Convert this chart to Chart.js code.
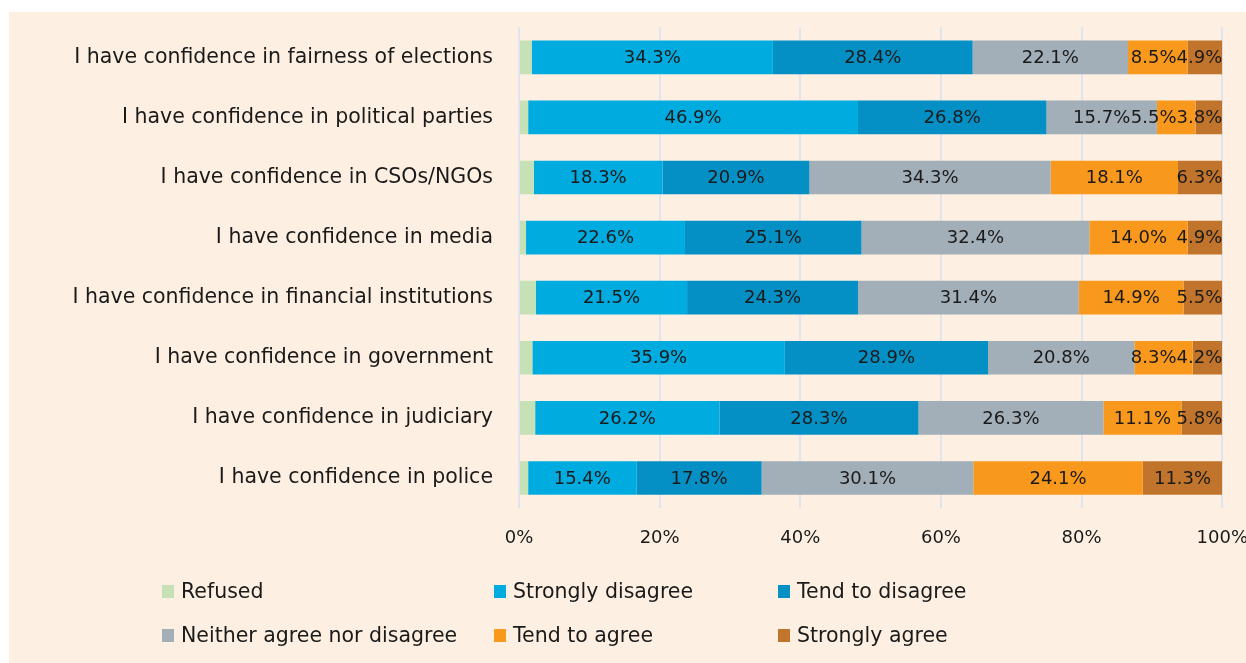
<!DOCTYPE html>
<html>
<head>
<meta charset="utf-8">
<script src="https://cdn.jsdelivr.net/npm/chart.js@4"></script>
<style>
    html, body { margin: 0; padding: 0; background: #ffffff; }
    body { width: 1246px; height: 663px; position: relative; overflow: hidden; font-family: "DejaVu Sans", sans-serif; }
    #panel { position: absolute; left: 9px; top: 12px; width: 1237px; height: 651px; background: #fdefe1; }
    #chartBox { position: absolute; left: 0; top: -23px; width: 1259px; height: 568px; }
    #legend { position: absolute; left: 0; top: 0; width: 1237px; height: 651px; pointer-events: none; }
    .item { position: absolute; display: flex; align-items: center; font-size: 20.5px; color: #1a1a1a; white-space: nowrap; }
    .box { width: 12px; height: 13px; margin-right: 7px; }
</style>
</head>
<body>
<div id="panel">
    <div id="chartBox"><canvas id="chart"></canvas></div>
    <div id="legend"></div>
</div>
<script>
// Survey data (percent of respondents)
const categories = [
    'I have confidence in fairness of elections',
    'I have confidence in political parties',
    'I have confidence in CSOs/NGOs',
    'I have confidence in media',
    'I have confidence in financial institutions',
    'I have confidence in government',
    'I have confidence in judiciary',
    'I have confidence in police'
];
const refused           = [1.8, 1.3, 2.1, 1.0, 2.4, 1.9, 2.3, 1.3];
const stronglyDisagree  = [34.3, 46.9, 18.3, 22.6, 21.5, 35.9, 26.2, 15.4];
const tendToDisagree    = [28.4, 26.8, 20.9, 25.1, 24.3, 28.9, 28.3, 17.8];
const neither           = [22.1, 15.7, 34.3, 32.4, 31.4, 20.8, 26.3, 30.1];
const tendToAgree       = [8.5, 5.5, 18.1, 14.0, 14.9, 8.3, 11.1, 24.1];
const stronglyAgree     = [4.9, 3.8, 6.3, 4.9, 5.5, 4.2, 5.8, 11.3];
const xTicks = [0, 20, 40, 60, 80, 100];

const series = [
    { label: 'Refused', data: refused, color: '#c6e1b5', showValue: false },
    { label: 'Strongly disagree', data: stronglyDisagree, color: '#00abdf', showValue: true },
    { label: 'Tend to disagree', data: tendToDisagree, color: '#0590c5', showValue: true },
    { label: 'Neither agree nor disagree', data: neither, color: '#a2aeb8', showValue: true },
    { label: 'Tend to agree', data: tendToAgree, color: '#f8981d', showValue: true },
    { label: 'Strongly agree', data: stronglyAgree, color: '#c1742b', showValue: true }
];

const FONT = '"DejaVu Sans", sans-serif';
const TEXT = '#1a1a1a';

// value labels in the middle of each segment; near the right end they are
// pushed left so that they stay inside the bar and do not overlap
const valueLabels = {
    id: 'valueLabels',
    afterDatasetsDraw(chart) {
        const ctx = chart.ctx;
        ctx.save();
        ctx.font = '18px ' + FONT;
        ctx.fillStyle = TEXT;
        ctx.textAlign = 'center';
        ctx.textBaseline = 'middle';
        chart.data.labels.forEach((_, j) => {
            let limit = chart.chartArea.right;
            for (let i = chart.data.datasets.length - 1; i >= 0; i--) {
                if (!series[i].showValue) continue;
                const bar = chart.getDatasetMeta(i).data[j];
                const text = chart.data.datasets[i].data[j].toFixed(1) + '%';
                const w = ctx.measureText(text).width;
                let x = (bar.x + bar.base) / 2;
                if (x + w / 2 > limit) x = limit - w / 2;
                limit = x - w / 2;
                ctx.fillText(text, x, bar.y + 1);
            }
        });
        ctx.restore();
    }
};

new Chart(document.getElementById('chart').getContext('2d'), {
    type: 'bar',
    data: {
        labels: categories,
        datasets: series.map(s => ({
            label: s.label,
            data: s.data,
            backgroundColor: s.color,
            borderWidth: 0,
            barPercentage: 0.56,
            categoryPercentage: 1.0
        }))
    },
    options: {
        indexAxis: 'y',
        responsive: true,
        maintainAspectRatio: false,
        animation: false,
        layout: { padding: { top: 13, right: 0, left: 0, bottom: 0 } },
        plugins: {
            legend: { display: false },
            tooltip: { enabled: false }
        },
        scales: {
            x: {
                stacked: true,
                min: 0,
                max: 100,
                afterBuildTicks: axis => { axis.ticks = xTicks.map(v => ({ value: v })); },
                afterFit: axis => { axis.height = 49; },
                grid: { color: '#dfe4ee', lineWidth: 2, drawTicks: false },
                border: { display: false },
                ticks: {
                    padding: 20,
                    color: TEXT,
                    font: { family: FONT, size: 18 },
                    callback: v => v + '%'
                }
            },
            y: {
                stacked: true,
                afterFit: axis => { axis.width = 510; },
                grid: { display: false, drawTicks: false },
                border: { display: false },
                ticks: {
                    padding: 26,
                    color: TEXT,
                    font: { family: FONT, size: 20.5 }
                }
            }
        }
    },
    plugins: [valueLabels]
});

// legend laid out in a 3-column grid like the original
const legendCols = [153, 485, 769];
const legendRows = [580, 624];
const legend = document.getElementById('legend');
series.forEach((s, i) => {
    const item = document.createElement('div');
    item.className = 'item';
    item.style.left = legendCols[i % 3] + 'px';
    item.style.top = (legendRows[Math.floor(i / 3)] - 13) + 'px';
    item.innerHTML = '<span class="box" style="background:' + s.color + '"></span>' + s.label;
    legend.appendChild(item);
});
</script>
</body>
</html>
